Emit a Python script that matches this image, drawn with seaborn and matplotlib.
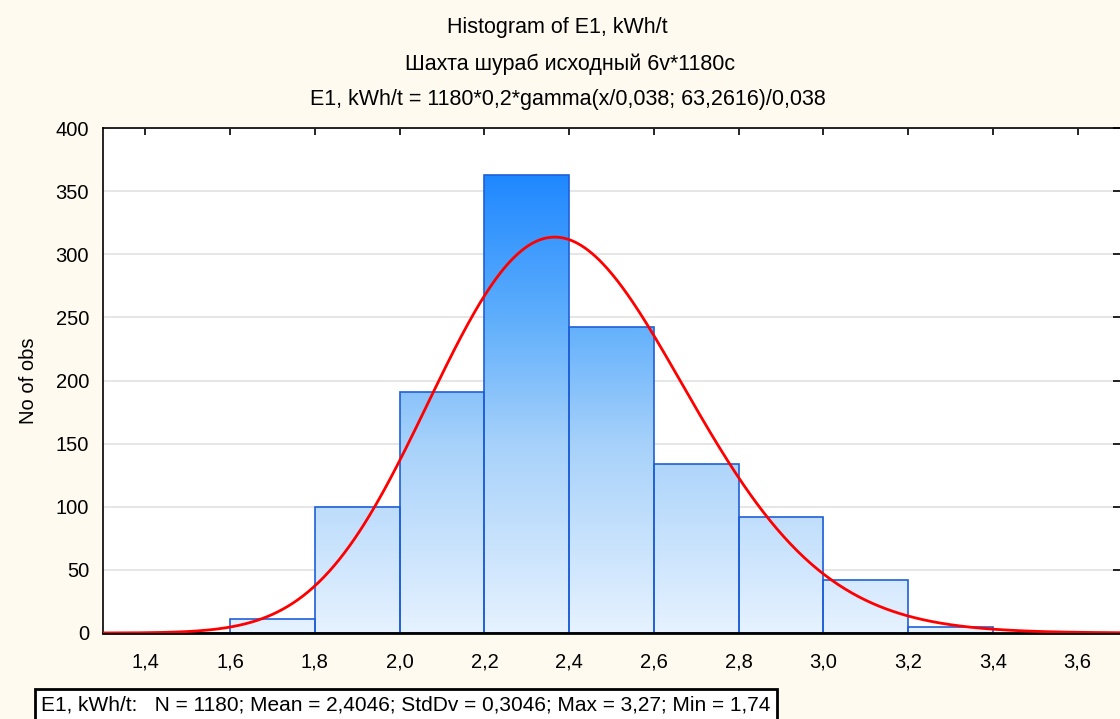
import math

import numpy as np
import pandas as pd
import matplotlib
matplotlib.use("Agg")
import matplotlib.pyplot as plt
import seaborn as sns
from matplotlib.colors import LinearSegmentedColormap

# histogram data
bin_edges = [1.4, 1.6, 1.8, 2.0, 2.2, 2.4, 2.6, 2.8, 3.0, 3.2, 3.4]
bin_counts = [0, 11, 100, 191, 363, 242, 134, 92, 42, 5]

# fitted gamma from the subtitle: 1180*0,2*gamma(x/0,038; 63,2616)/0,038
n_obs = 1180
bin_width = 0.2
gamma_scale = 0.038
gamma_shape = 63.2616

x_ticks = [1.4, 1.6, 1.8, 2.0, 2.2, 2.4, 2.6, 2.8, 3.0, 3.2, 3.4, 3.6]
y_ticks = [0, 50, 100, 150, 200, 250, 300, 350, 400]

title_lines = [
    "Histogram of E1, kWh/t",
    "Шахта шураб исходный 6v*1180c",
    "E1, kWh/t = 1180*0,2*gamma(x/0,038; 63,2616)/0,038",
]
stats_text = "E1, kWh/t:   N = 1180; Mean = 2,4046; StdDv = 0,3046; Max = 3,27; Min = 1,74"


def gamma_pdf(z, k):
    return np.exp((k - 1) * np.log(z) - z - math.lgamma(k))


def main() -> None:
    sns.set_theme(style="white")
    plt.rcParams["font.family"] = ["Liberation Sans", "DejaVu Sans"]

    bg = "#FEFAEF"
    fig = plt.figure(figsize=(11.2, 7.19), dpi=100, facecolor=bg)
    ax = fig.add_axes([103 / 1120, 1 - 633 / 719, 1017 / 1120, (633 - 128) / 719])
    ax.set_facecolor("white")

    centers = [(a + b) / 2 for a, b in zip(bin_edges[:-1], bin_edges[1:])]
    df = pd.DataFrame({"x": centers, "n": bin_counts})
    sns.histplot(data=df, x="x", weights="n", bins=bin_edges, ax=ax,
                 stat="count", element="bars", fill=True, zorder=2)

    # vertical gradient (by y-value) clipped to each bar
    cmap = LinearSegmentedColormap.from_list(
        "bl", [(0, "#E6F2FF"), (0.4, "#A8D2FA"), (0.68, "#5EAEFC"), (1, "#1C86FF")])
    grad = np.linspace(0, 1, 256).reshape(-1, 1)
    for p in ax.patches:
        p.set_facecolor("none")
        p.set_edgecolor("#1F5FD8")
        p.set_linewidth(1.2)
        p.set_alpha(None)
        im = ax.imshow(grad, extent=[1.3, 3.7, 0, 368], origin="lower",
                       cmap=cmap, aspect="auto", zorder=1.5, vmin=0, vmax=1)
        im.set_clip_path(p)
    ax.set_xlim(1.3, 3.7)
    ax.set_ylim(0, 400)

    xs = np.linspace(1.3, 3.7, 600)
    ys = n_obs * bin_width * gamma_pdf(xs / gamma_scale, gamma_shape) / gamma_scale
    sns.lineplot(x=xs, y=ys, ax=ax, color="#FF0000", linewidth=2, zorder=4)

    ax.yaxis.grid(True, color="#E2E2E2", linewidth=1.2, zorder=0)
    ax.set_axisbelow(True)

    ax.set_xticks(x_ticks)
    ax.set_xticklabels([f"{t:.1f}".replace(".", ",") for t in x_ticks])
    ax.set_yticks(y_ticks)
    ax.tick_params(axis="both", direction="in", length=5, width=1.2, color="black",
                   labelsize=14.5, labelcolor="black", top=True, right=True, pad=10)
    ax.tick_params(axis="x", pad=14)
    for s in ax.spines.values():
        s.set_color("black")
        s.set_linewidth(1.2)
    ax.spines["bottom"].set_linewidth(2)
    ax.spines["right"].set_visible(False)

    ax.set_xlabel("")
    ax.set_ylabel("No of obs", fontsize=14.5, color="black", labelpad=13)

    for (x, y), line in zip([(557, 27), (570, 64), (568, 99)], title_lines):
        fig.text(x / 1120, 1 - y / 719, line, ha="center", va="center",
                 fontsize=15.5, color="black")

    fig.text(41 / 1120, 1 - 705 / 719, stats_text, ha="left", va="center",
             fontsize=15, color="black",
             bbox=dict(boxstyle="square,pad=0.3", facecolor="white",
                       edgecolor="black", linewidth=2))

    fig.savefig("out.png", dpi=100, facecolor=bg)
    plt.close(fig)


if __name__ == "__main__":
    main()
